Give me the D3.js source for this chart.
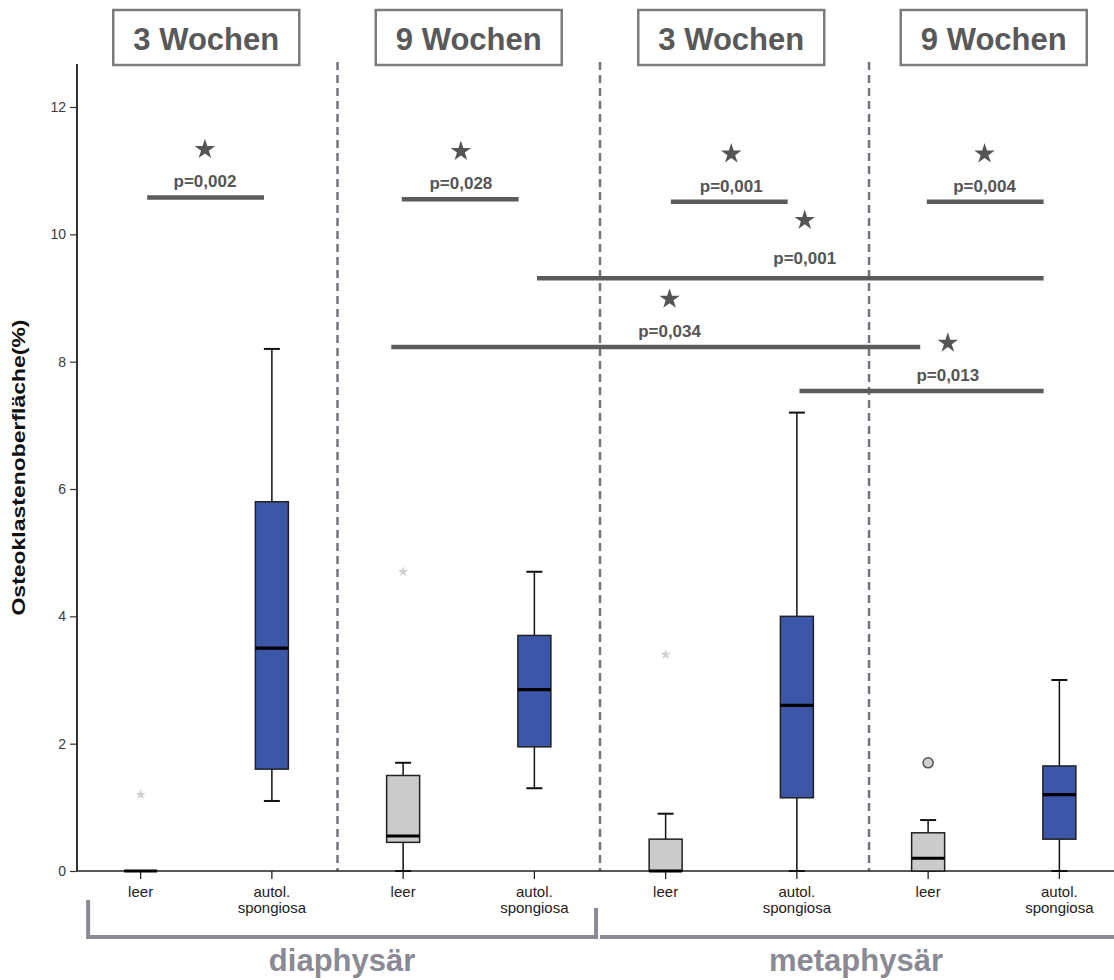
<!DOCTYPE html>
<html>
<head>
<meta charset="utf-8">
<script src="https://cdn.jsdelivr.net/npm/d3@7"></script>
<style>
  html, body { margin: 0; background: #fff; overflow: hidden; }
  svg { display: block; font-family: "Liberation Sans", Arial, sans-serif; }
</style>
</head>
<body>
<div id="chart"></div>
<script>
// categories along the x axis (two lines per label)
const categories = ["leer", "autol.\nspongiosa", "leer", "autol.\nspongiosa",
                    "leer", "autol.\nspongiosa", "leer", "autol.\nspongiosa"];
const categoryKind = ["leer", "autol", "leer", "autol", "leer", "autol", "leer", "autol"];
const groupLabels = ["3 Wochen", "9 Wochen", "3 Wochen", "9 Wochen"];
const regionLabels = ["diaphysär", "metaphysär"];

// box plot values (Osteoklastenoberfläche in %)
const boxMin    = [0, 1.1, 0,    1.3,  0,   0,    0,   0];
const boxQ1     = [0, 1.6, 0.45, 1.95, 0,   1.15, 0,   0.5];
const boxMedian = [0, 3.5, 0.55, 2.85, 0,   2.6,  0.2, 1.2];
const boxQ3     = [0, 5.8, 1.5,  3.7,  0.5, 4.0,  0.6, 1.65];
const boxMax    = [0, 8.2, 1.7,  4.7,  0.9, 7.2,  0.8, 3.0];

// outliers: index of category, value, type (extreme = star, outlier = circle)
const outlierCat   = [0, 2, 4, 6];
const outlierValue = [1.2, 4.7, 3.4, 1.7];
const outlierType  = ["extreme", "extreme", "extreme", "outlier"];

// significance bars, x in category-index units, y in data units
const sigFrom  = [0.05, 1.99, 4.04, 5.99, 3.02, 1.91, 5.02];
const sigTo    = [0.94, 2.88, 4.93, 6.88, 6.88, 5.94, 6.88];
const sigY     = [10.58, 10.55, 10.51, 10.51, 9.31, 8.23, 7.54];
const sigLabX  = [0.49, 2.44, 4.50, 6.43, 5.06, 4.03, 6.15];
const sigText  = ["p=0,002", "p=0,028", "p=0,001", "p=0,004", "p=0,001", "p=0,034", "p=0,013"];

// dividers between time groups (category-index units)
const dividers = [1.5, 3.5, 5.55];
const yTicks = [0, 2, 4, 6, 8, 10, 12];

const width = 1114, height = 980;

const svg = d3.select("#chart").append("svg")
    .attr("width", width)
    .attr("height", height)
    .style("overflow", "hidden");

svg.append("rect").attr("width", width).attr("height", height).attr("fill", "#fff");

// scales
const x = d3.scaleBand()
    .domain(d3.range(categories.length))
    .range([75, 1125]);
const xi = d3.scaleLinear()
    .domain([0, 1])
    .range([x(0) + x.bandwidth() / 2, x(1) + x.bandwidth() / 2]);
const y = d3.scaleLinear()
    .domain([0, 12])
    .range([871, 107]);

const axisLeftX = 77;

// divider lines
svg.selectAll(".divider")
    .data(dividers)
    .enter()
    .append("line")
    .attr("class", "divider")
    .attr("x1", d => xi(d)).attr("x2", d => xi(d))
    .attr("y1", 62).attr("y2", y(0))
    .attr("stroke", "#74747f")
    .attr("stroke-width", 2.5)
    .attr("stroke-dasharray", "8,5");

// y axis
const yAxis = svg.append("g")
    .attr("transform", `translate(${axisLeftX},0)`)
    .call(d3.axisLeft(y).tickValues(yTicks).tickSize(7).tickPadding(4));
yAxis.select(".domain").remove();
yAxis.selectAll(".tick line").attr("stroke", "#333").attr("stroke-width", 1.2);
yAxis.selectAll(".tick text")
    .style("font-size", "14px")
    .style("font-family", "Liberation Sans, Arial, sans-serif")
    .attr("fill", "#3a3a3a");
svg.append("line")
    .attr("x1", axisLeftX).attr("x2", axisLeftX)
    .attr("y1", 64).attr("y2", y(0))
    .attr("stroke", "#333").attr("stroke-width", 2);

svg.append("text")
    .attr("transform", `translate(25,${(y(0) + 64) / 2}) rotate(-90)`)
    .attr("text-anchor", "middle")
    .attr("textLength", 296)
    .attr("lengthAdjust", "spacingAndGlyphs")
    .style("font-size", "19px")
    .style("font-weight", 700)
    .attr("fill", "#111")
    .text("Osteoklastenoberfläche(%)");

// x axis (line drawn separately so no outer ticks appear)
const xAxis = svg.append("g")
    .attr("transform", `translate(0,${y(0)})`)
    .call(d3.axisBottom(x).tickSize(8).tickSizeOuter(0).tickFormat(""));
xAxis.select(".domain").remove();
xAxis.selectAll(".tick line").attr("stroke", "#222").attr("stroke-width", 1.3);
svg.append("line")
    .attr("x1", axisLeftX).attr("x2", width)
    .attr("y1", y(0)).attr("y2", y(0))
    .attr("stroke", "#222").attr("stroke-width", 1.5);

svg.selectAll(".cat-label")
    .data(categories)
    .enter()
    .append("text")
    .attr("class", "cat-label")
    .attr("x", (d, i) => x(i) + x.bandwidth() / 2)
    .attr("y", y(0) + 26)
    .attr("text-anchor", "middle")
    .style("font-size", "15px")
    .attr("fill", "#222")
    .each(function(d) {
        const lines = d.split("\n");
        d3.select(this).selectAll("tspan")
            .data(lines)
            .enter()
            .append("tspan")
            .attr("x", d3.select(this).attr("x"))
            .attr("dy", (l, j) => j === 0 ? 0 : 16)
            .text(l => l);
    });

// box plots
const boxW = 33, capW = 16;
const fill = { leer: "#cbcbcb", autol: "#3c56a9" };
const boxes = svg.selectAll(".box")
    .data(categories.map((c, i) => i))
    .enter()
    .append("g")
    .attr("class", "box")
    .attr("transform", i => `translate(${x(i) + x.bandwidth() / 2},0)`);

boxes.append("line")
    .attr("x1", 0).attr("x2", 0)
    .attr("y1", i => y(boxMin[i])).attr("y2", i => y(boxMax[i]))
    .attr("stroke", "#111").attr("stroke-width", 1.5);
boxes.append("line")
    .attr("x1", -capW / 2).attr("x2", capW / 2)
    .attr("y1", i => y(boxMax[i])).attr("y2", i => y(boxMax[i]))
    .attr("stroke", "#111").attr("stroke-width", 2);
boxes.append("line")
    .attr("x1", -capW / 2).attr("x2", capW / 2)
    .attr("y1", i => y(boxMin[i])).attr("y2", i => y(boxMin[i]))
    .attr("stroke", "#111").attr("stroke-width", 2);
boxes.append("rect")
    .attr("x", -boxW / 2)
    .attr("width", boxW)
    .attr("y", i => y(boxQ3[i]))
    .attr("height", i => y(boxQ1[i]) - y(boxQ3[i]))
    .attr("fill", i => fill[categoryKind[i]])
    .attr("stroke", "#222").attr("stroke-width", 1.5);
boxes.append("line")
    .attr("x1", -boxW / 2).attr("x2", boxW / 2)
    .attr("y1", i => y(boxMedian[i])).attr("y2", i => y(boxMedian[i]))
    .attr("stroke", "#000").attr("stroke-width", 3.2);

// outliers
svg.selectAll(".outlier")
    .data(outlierCat.map((c, i) => i))
    .enter()
    .append("path")
    .attr("class", "outlier")
    .attr("transform", i => `translate(${x(outlierCat[i]) + x.bandwidth() / 2},${y(outlierValue[i])})`)
    .attr("d", i => outlierType[i] === "extreme"
        ? d3.symbol(d3.symbolStar, 34)()
        : d3.symbol(d3.symbolCircle, 80)())
    .attr("fill", i => outlierType[i] === "extreme" ? "#d0d0d0" : "#cfcfcf")
    .attr("stroke", i => outlierType[i] === "extreme" ? "none" : "#555")
    .attr("stroke-width", 1.6);

// significance bars
const sig = svg.selectAll(".sig")
    .data(sigText.map((t, i) => i))
    .enter()
    .append("g")
    .attr("class", "sig");
sig.append("line")
    .attr("x1", i => xi(sigFrom[i])).attr("x2", i => xi(sigTo[i]))
    .attr("y1", i => y(sigY[i])).attr("y2", i => y(sigY[i]))
    .attr("stroke", "#5b5b5b").attr("stroke-width", 4.5);
sig.append("text")
    .attr("x", i => xi(sigLabX[i]))
    .attr("y", i => y(sigY[i]) - (i === 4 ? 14 : 10))
    .attr("text-anchor", "middle")
    .style("font-size", "17px")
    .style("font-weight", 700)
    .attr("fill", "#555")
    .text(i => sigText[i]);
sig.append("path")
    .attr("transform", i => `translate(${xi(sigLabX[i])},${y(sigY[i]) - (i === 4 ? 58 : 48)})`)
    .attr("d", d3.symbol(d3.symbolStar, 130)())
    .attr("fill", "#555");

// time group boxes
const groupCenters = groupLabels.map((g, i) => (xi(2 * i) + xi(2 * i + 1)) / 2);
const gLab = svg.selectAll(".group")
    .data(groupLabels)
    .enter()
    .append("g")
    .attr("class", "group")
    .attr("transform", (d, i) => `translate(${groupCenters[i]},38)`);
gLab.append("rect")
    .attr("x", -93).attr("y", -28)
    .attr("width", 186).attr("height", 55)
    .attr("fill", "#fff")
    .attr("stroke", "#7b7b80").attr("stroke-width", 2.5);
gLab.append("text")
    .attr("y", 12)
    .attr("text-anchor", "middle")
    .style("font-size", "31px")
    .style("font-weight", 700)
    .attr("fill", "#595959")
    .text(d => d);

// region brackets
const regionFrom = [-0.4, 3.5];
const regionTo = [3.47, 7.6];
const bracketY = 937;
svg.append("path")
    .attr("d", `M${xi(regionFrom[0])},900V${bracketY}H${xi(regionTo[0])}V908`)
    .attr("fill", "none")
    .attr("stroke", "#8a8a94").attr("stroke-width", 4);
svg.append("line")
    .attr("x1", xi(regionFrom[1])).attr("x2", width)
    .attr("y1", bracketY).attr("y2", bracketY)
    .attr("stroke", "#8a8a94").attr("stroke-width", 4);
svg.selectAll(".region")
    .data(regionLabels)
    .enter()
    .append("text")
    .attr("class", "region")
    .attr("x", (d, i) => (xi(regionFrom[i]) + xi(Math.min(regionTo[i], 7.4))) / 2)
    .attr("y", 971)
    .attr("text-anchor", "middle")
    .style("font-size", "31px")
    .style("font-weight", 700)
    .attr("fill", "#8a8a94")
    .text(d => d);
</script>
</body>
</html>
